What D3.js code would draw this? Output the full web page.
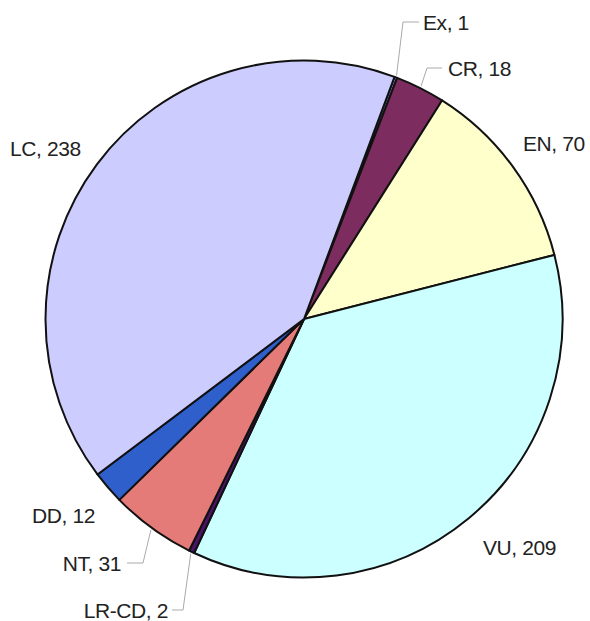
<!DOCTYPE html>
<html>
<head>
<meta charset="utf-8">
<script src="https://cdn.jsdelivr.net/npm/d3@7"></script>
<style>
  body { margin: 0; background: #fff; }
  svg { display: block; }
</style>
</head>
<body>
<svg id="chart" width="590" height="621"></svg>
<script>
// data
const categories = ["Ex", "CR", "EN", "VU", "LR-CD", "NT", "DD", "LC"];
const counts = [1, 18, 70, 209, 2, 31, 12, 238];
const colors = ["#9c9cf5", "#7d2c5f", "#ffffcc", "#ccffff", "#4b1466", "#e57b78", "#2f5fcb", "#ccccff"];

// label layout: text anchor point (x, cap-centre y), anchor, optional leader elbow
const labelLayout = {
  "Ex":    { x: 423, y: 22,  anchor: "start", elbow: [403, 22], end: [419, 22] },
  "CR":    { x: 448, y: 68,  anchor: "start", elbow: [427, 68], end: [442, 68] },
  "EN":    { x: 523, y: 143, anchor: "start" },
  "VU":    { x: 483, y: 547, anchor: "start" },
  "LR-CD": { x: 168, y: 610, anchor: "end", elbow: [183, 610], end: [172, 610] },
  "NT":    { x: 121, y: 563, anchor: "end", elbow: [143, 563], end: [127, 563] },
  "DD":    { x: 32,  y: 515, anchor: "start" },
  "LC":    { x: 10,  y: 148, anchor: "start" }
};

const svg = d3.select("#chart");
const cx = 304, cy = 319, radius = 258.5;
const startDeg = 20.5;

const slices = categories.map((c, i) => ({ name: c, value: counts[i], color: colors[i] }));

const pie = d3.pie()
  .value(d => d.value)
  .sort(null)
  .startAngle(startDeg * Math.PI / 180)
  .endAngle((startDeg + 360) * Math.PI / 180);

const arc = d3.arc().innerRadius(0).outerRadius(radius);

const g = svg.append("g").attr("transform", `translate(${cx},${cy})`);
const arcs = pie(slices);

g.selectAll("path")
  .data(arcs)
  .enter()
  .append("path")
  .attr("d", arc)
  .attr("fill", d => d.data.color)
  .attr("stroke", "#111")
  .attr("stroke-width", 2)
  .attr("stroke-linejoin", "round");

// leader lines
arcs.forEach(d => {
  const lay = labelLayout[d.data.name];
  if (!lay.elbow) return;
  const a = (d.startAngle + d.endAngle) / 2;
  const sx = cx + (radius + 2) * Math.sin(a);
  const sy = cy - (radius + 2) * Math.cos(a);
  svg.append("polyline")
    .attr("points", [[sx, sy], lay.elbow, lay.end].map(p => p.join(",")).join(" "))
    .attr("fill", "none")
    .attr("stroke", "#aaa")
    .attr("stroke-width", 1);
});

// labels
const fontSize = 21;
svg.selectAll("text.lbl")
  .data(arcs)
  .enter()
  .append("text")
  .attr("class", "lbl")
  .attr("x", d => labelLayout[d.data.name].x)
  .attr("y", d => labelLayout[d.data.name].y + fontSize * 0.358)
  .attr("text-anchor", d => labelLayout[d.data.name].anchor)
  .style("font-family", "'Liberation Sans', Arial, sans-serif")
  .style("font-size", fontSize + "px")
  .style("letter-spacing", "-0.4px")
  .style("fill", "#222")
  .text(d => `${d.data.name}, ${d.data.value}`);
</script>
</body>
</html>
